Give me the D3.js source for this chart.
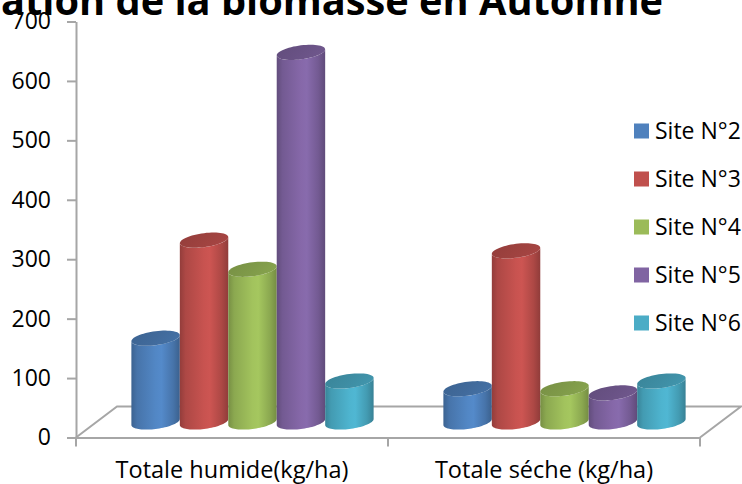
<!DOCTYPE html>
<html>
<head>
<meta charset="utf-8">
<script src="https://cdn.jsdelivr.net/npm/d3@7"></script>
<style>
  html, body { margin: 0; padding: 0; background: #fff; overflow: hidden; }
  svg { display: block; }
  text { font-family: "Open Sans", "Noto Sans", sans-serif; }
</style>
</head>
<body>
<script>
// Biomass per site, autumn
const categories = ["Totale humide(kg/ha)", "Totale séche (kg/ha)"];
const siteNames = ["Site N°2", "Site N°3", "Site N°4", "Site N°5", "Site N°6"];
const site2 = [141, 56];
const site3 = [306, 288];
const site4 = [257, 56];
const site5 = [622, 49];
const site6 = [69, 69];
const siteColors = ["#4F81BD", "#C0504D", "#9BBB59", "#8064A2", "#4BACC6"];
const yTicks = [0, 100, 200, 300, 400, 500, 600, 700];
const titleText = "Variation de la biomasse en Automne";

const seriesValues = [site2, site3, site4, site5, site6];

const W = 742, H = 484;
const svg = d3.select("body").append("svg")
  .attr("width", W).attr("height", H);
const defs = svg.append("defs");

// front plane scales
const y = d3.scaleLinear().domain([0, 700]).range([437.5, 21.5]);
const x0 = d3.scaleBand().domain(categories).range([76, 700]);
const x1 = d3.scaleBand().domain(siteNames).range([0, x0.bandwidth()])
  .paddingInner(0).paddingOuter(0.72);

// oblique depth of the floor
const depthDx = 41, depthDy = -31;
const barDx = depthDx / 2, barDy = depthDy / 2;
const gridGray = "#A6A6A6";
const labelSize = 23;

// title (partly outside the top of the canvas)
const titleSize = (() => {
  const t = svg.append("text").attr("font-size", 100).attr("font-weight", 700)
    .text("ation de la biomasse en Automne");
  const w = t.node().getComputedTextLength();
  t.remove();
  return 100 * 662 / w;
})();
svg.append("text")
  .attr("x", 663).attr("y", 15)
  .attr("text-anchor", "end")
  .attr("font-size", titleSize)
  .attr("font-weight", 700)
  .attr("fill", "#000")
  .text(titleText);

// floor
const [fx0, fx1] = x0.range();
const fy = y(0);
svg.append("path")
  .attr("d", `M${fx0},${fy} L${fx0 + depthDx},${fy + depthDy} L${fx1 + depthDx},${fy + depthDy} L${fx1},${fy}`)
  .attr("fill", "none").attr("stroke", gridGray).attr("stroke-width", 2);

// value axis
const yAxis = svg.append("g")
  .attr("transform", `translate(${fx0},0)`)
  .call(d3.axisLeft(y).tickValues(yTicks).tickSize(9).tickSizeOuter(0).tickPadding(16));
yAxis.select(".domain").attr("stroke", gridGray).attr("stroke-width", 2);
yAxis.selectAll(".tick line").attr("stroke", gridGray).attr("stroke-width", 2);
yAxis.selectAll(".tick text").attr("font-size", labelSize).attr("fill", "#000")
  .attr("font-family", "'Open Sans', sans-serif");

// category axis
const xAxis = svg.append("g")
  .attr("transform", `translate(0,${fy})`)
  .call(d3.axisBottom(x0).tickSize(0).tickSizeOuter(0));
xAxis.select(".domain").attr("stroke", gridGray).attr("stroke-width", 2);
xAxis.selectAll(".tick text")
  .attr("font-size", 23.5).attr("fill", "#000")
  .attr("font-family", "'Open Sans', sans-serif")
  .attr("y", 40).attr("dy", null);
const boundaries = [fx0].concat(categories.map(c => x0(c) + x0.bandwidth()));
xAxis.selectAll(".bound").data(boundaries).join("line")
  .attr("class", "bound")
  .attr("x1", d => d).attr("x2", d => d)
  .attr("y1", 0).attr("y2", 9)
  .attr("stroke", gridGray).attr("stroke-width", 2);

// gradients for cylinders
siteColors.forEach((c, i) => {
  const base = d3.color(c);
  const g = defs.append("linearGradient").attr("id", "body" + i)
    .attr("x1", 0).attr("x2", 1).attr("y1", 0).attr("y2", 0);
  [[0, base.darker(0.75)], [0.12, base.darker(0.3)], [0.5, base.brighter(0.12)],
   [0.62, base.brighter(0.18)], [0.86, base.darker(0.3)], [1, base.darker(0.8)]]
    .forEach(([o, col]) => g.append("stop").attr("offset", o).attr("stop-color", col));
  const t = defs.append("linearGradient").attr("id", "top" + i)
    .attr("x1", 0).attr("x2", 1).attr("y1", 0).attr("y2", 0.3);
  [[0, base.darker(0.75)], [0.6, base.darker(0.55)], [1, base.darker(0.4)]]
    .forEach(([o, col]) => t.append("stop").attr("offset", o).attr("stop-color", col));
});

// cylinder geometry
const rx = x1.bandwidth() / 2, ry = 7, tilt = 3;
function ellPt(cx, cy, a) {
  return [cx + rx * Math.cos(a), cy + ry * Math.sin(a) - tilt * Math.cos(a)];
}
function bodyPath(cx, topY, baseY) {
  const p = d3.path();
  const s = ellPt(cx, topY, 0);
  p.moveTo(s[0], s[1]);
  const b0 = ellPt(cx, baseY, 0);
  p.lineTo(b0[0], b0[1]);
  for (let k = 1; k <= 40; k++) {
    const q = ellPt(cx, baseY, Math.PI * k / 40);
    p.lineTo(q[0], q[1]);
  }
  const t = ellPt(cx, topY, Math.PI);
  p.lineTo(t[0], t[1]);
  for (let k = 39; k >= 0; k--) {
    const q = ellPt(cx, topY, Math.PI * k / 40);
    p.lineTo(q[0], q[1]);
  }
  p.closePath();
  return p.toString();
}
function topPath(cx, topY) {
  const p = d3.path();
  for (let k = 0; k <= 60; k++) {
    const q = ellPt(cx, topY, 2 * Math.PI * k / 60);
    if (k === 0) p.moveTo(q[0], q[1]); else p.lineTo(q[0], q[1]);
  }
  p.closePath();
  return p.toString();
}

const bars = [];
categories.forEach((cat, ci) => {
  siteNames.forEach((s, si) => {
    bars.push({ cat, ci, si, v: seriesValues[si][ci] });
  });
});

const barG = svg.append("g");
const cyl = barG.selectAll("g.cyl").data(bars).join("g").attr("class", "cyl");
cyl.append("path")
  .attr("d", d => {
    const cx = x0(d.cat) + x1(siteNames[d.si]) + rx + barDx;
    return bodyPath(cx, y(d.v) + barDy, y(0) + barDy);
  })
  .attr("fill", d => `url(#body${d.si})`);
cyl.append("path")
  .attr("d", d => {
    const cx = x0(d.cat) + x1(siteNames[d.si]) + rx + barDx;
    return topPath(cx, y(d.v) + barDy);
  })
  .attr("fill", d => `url(#top${d.si})`);

// legend
const legend = svg.append("g").selectAll("g").data(siteNames).join("g")
  .attr("transform", (d, i) => `translate(634,${131 + 48 * i})`);
legend.append("rect")
  .attr("x", 0).attr("y", -7.5).attr("width", 15).attr("height", 15)
  .attr("fill", (d, i) => siteColors[i]);
legend.append("text")
  .attr("x", 21).attr("y", 8)
  .attr("font-size", labelSize).attr("fill", "#000")
  .text(d => d);
</script>
</body>
</html>
